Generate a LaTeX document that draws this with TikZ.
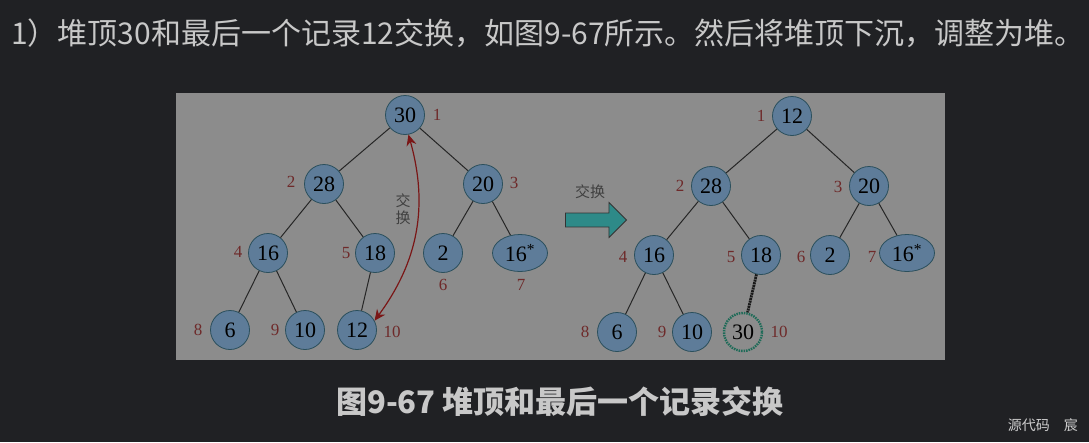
\documentclass[tikz,border=0pt]{standalone}
\usepackage{fontspec}
\setmainfont{Liberation Serif}
\newfontfamily\cjk{Noto Sans CJK SC}
\usetikzlibrary{arrows.meta,shapes.geometric,shapes.arrows}

\definecolor{pagebg}{HTML}{202124}
\definecolor{panelbg}{HTML}{8C8C8C}
\definecolor{nodefill}{HTML}{5E7C99}
\definecolor{nodeline}{HTML}{2B4F5C}
\definecolor{idxred}{HTML}{6E2A2A}
\definecolor{swapred}{HTML}{7A1616}
\definecolor{arrowteal}{HTML}{2E8A88}
\definecolor{dashgreen}{HTML}{1E6B58}
\definecolor{textgray}{HTML}{C8C8C8}

\begin{document}
\begin{tikzpicture}[
      x=1pt,y=-1pt,
      heapnode/.style={
         circle,
         draw=nodeline,
         fill=nodefill,
         line width=0.8pt,
         inner sep=0pt,
         minimum size=39pt,
         font=\fontsize{22}{22}\selectfont},
      heapoval/.style={
         heapnode,
         ellipse,
         minimum width=55pt,
         minimum height=37pt},
      sunknode/.style={
         circle,
         draw=dashgreen,
         line width=2.4pt,
         dash pattern=on 1.5pt off 1pt,
         inner sep=0pt,
         minimum size=38pt,
         font=\fontsize{22}{22}\selectfont},
      idx/.style={
         text=idxred,
         inner sep=0pt,
         font=\fontsize{17}{17}\selectfont},
      tag/.style={
         text=black!75,
         inner sep=0pt,
         align=center,
         font=\cjk\fontsize{15}{17}\selectfont},
      edge/.style={draw=black!85,line width=1pt},
      swaparrow/.style={{Stealth[length=11pt,width=10pt]}-{Stealth[length=11pt,width=10pt]},
         draw=swapred,line width=1.2pt},
      bigarrow/.style={
         single arrow,
         draw=black!80,
         fill=arrowteal,
         line width=0.8pt,
         inner sep=6.5pt,
         minimum height=61pt,
         minimum width=35pt,
         single arrow head extend=10.5pt},
      ]
      % page and panel
      \fill[pagebg] (0,0) rectangle (1089,442);
      \useasboundingbox (0,0) rectangle (1089,442);
      \fill[panelbg] (176,93) rectangle (945,360);

      \node[anchor=west,text=textgray,inner sep=0pt,font=\cjk\fontsize{30}{30}\selectfont] (title) at (11,33)
        {1）堆顶30和最后一个记录12交换，如图9-67所示。然后将堆顶下沉，调整为堆。};

      % left heap
      \node[heapnode] (a1) at (405,115) {30};
      \node[heapnode] (a2) at (324,184) {28};
      \node[heapnode] (a3) at (483,184) {20};
      \node[heapnode] (a4) at (268,253) {16};
      \node[heapnode] (a5) at (375,253) {18};
      \node[heapnode] (a6) at (443,253) {2};
      \node[heapoval] (a7) at (520,253) {16\textsuperscript{*}};
      \node[heapnode] (a8) at (230,330) {6};
      \node[heapnode] (a9) at (305,330) {10};
      \node[heapnode] (a10) at (357,330) {12};
      \foreach \i/\x/\y in {1/437/115, 2/291/182, 3/514/183, 4/238/252, 5/346/253,
                           6/443/285, 7/521/285, 8/198/330, 9/275/330, 10/392/332}
        \node[idx] (ia\i) at (\x,\y) {\i};
      \foreach \i/\j in {a1/a2, a1/a3, a2/a4, a2/a5, a3/a6, a3/a7, a4/a8, a4/a9, a5/a10}
        \draw[edge] (\i) -- (\j);
      \draw[swaparrow] (a1.-80) to[bend left=26] (a10.28);
      \node[tag] (swaptag) at (403,209) {交\\换};

      % exchange arrow
      \node[bigarrow] (move) at (592.5,220) {};
      \node[tag] (movetag) at (590,192) {交换};

      % right heap
      \node[heapnode] (b1) at (792,116) {12};
      \node[heapnode] (b2) at (711,186) {28};
      \node[heapnode] (b3) at (869,186) {20};
      \node[heapnode] (b4) at (654,255) {16};
      \node[heapnode] (b5) at (761,255) {18};
      \node[heapnode] (b6) at (830,255) {2};
      \node[heapoval] (b7) at (907,253) {16\textsuperscript{*}};
      \node[heapnode] (b8) at (617,332) {6};
      \node[heapnode] (b9) at (692,332) {10};
      \node[sunknode] (b10) at (743,332) {30};
      \foreach \i/\x/\y in {1/761/116, 2/680/186, 3/838/187, 4/623/257, 5/731/257,
                           6/801/257, 7/872/257, 8/585/332, 9/662/332, 10/779/332}
        \node[idx] (ib\i) at (\x,\y) {\i};
      \foreach \i/\j in {b1/b2, b1/b3, b2/b4, b2/b5, b3/b6, b3/b7, b4/b8, b4/b9}
        \draw[edge] (\i) -- (\j);
      \draw[edge,draw=black!90,line width=2.8pt,dash pattern=on 2pt off 0.7pt] (b5) -- (b10);

      \node[text=textgray,inner sep=0pt,font=\cjk\bfseries\fontsize{31}{31}\selectfont] (caption) at (560,402)
        {图9-67 堆顶和最后一个记录交换};
      \node[anchor=east,text=textgray!90,inner sep=0pt,font=\cjk\fontsize{14}{14}\selectfont] (mark) at (1078,425)
        {源代码\quad 宸};
\end{tikzpicture}
\end{document}
